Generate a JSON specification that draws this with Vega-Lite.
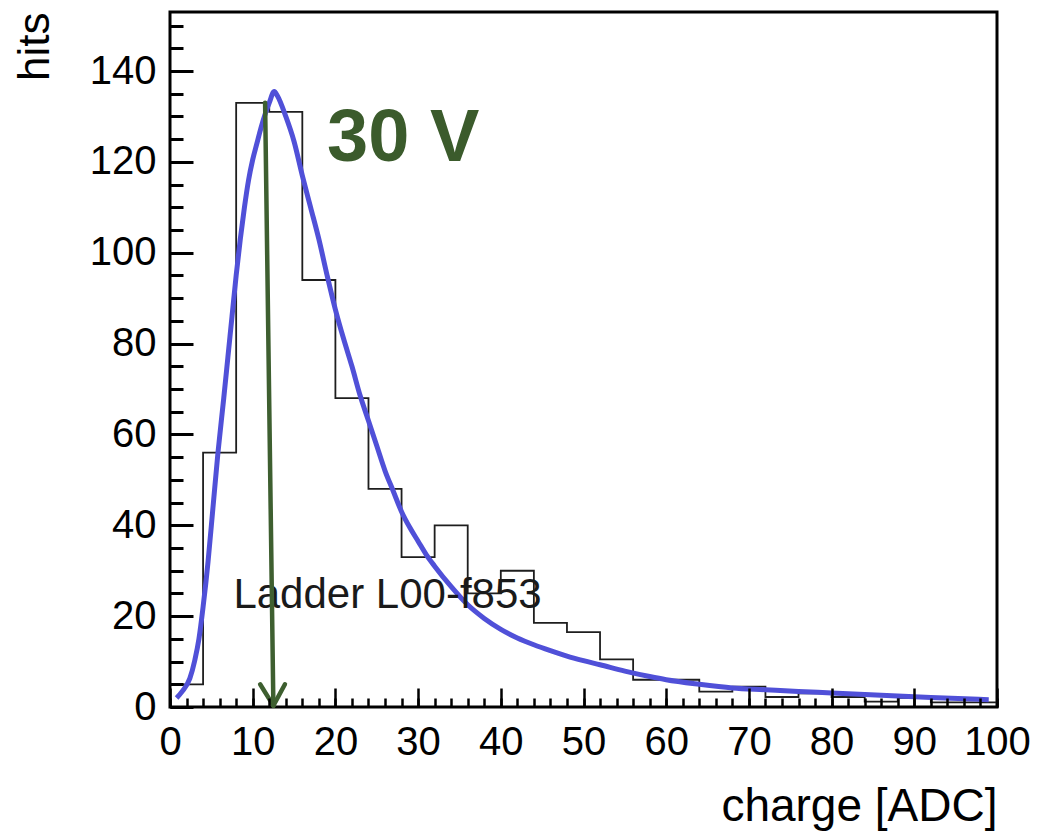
{
  "$schema": "https://vega.github.io/schema/vega-lite/v6.json",
  "autosize": {"type": "none"},
  "padding": {"left": 170, "top": 12, "right": 42, "bottom": 125},
  "width": 827,
  "height": 695,
  "background": "white",
  "config": {
    "view": {"stroke": "black", "strokeWidth": 3},
    "font": "Liberation Sans"
  },
  "datasets": {
    "hist": [
      {"edge": 0, "hits": 5}, {"edge": 4, "hits": 56}, {"edge": 8, "hits": 133}, {"edge": 12, "hits": 131},
      {"edge": 16, "hits": 94}, {"edge": 20, "hits": 68}, {"edge": 24, "hits": 48}, {"edge": 28, "hits": 33},
      {"edge": 32, "hits": 40}, {"edge": 36, "hits": 25}, {"edge": 40, "hits": 30}, {"edge": 44, "hits": 18.5},
      {"edge": 48, "hits": 16.5}, {"edge": 52, "hits": 10.5}, {"edge": 56, "hits": 6}, {"edge": 60, "hits": 6},
      {"edge": 64, "hits": 3.4}, {"edge": 68, "hits": 4.5}, {"edge": 72, "hits": 2.2}, {"edge": 76, "hits": 3},
      {"edge": 80, "hits": 2.2}, {"edge": 84, "hits": 1.2}, {"edge": 88, "hits": 2}, {"edge": 92, "hits": 1},
      {"edge": 96, "hits": 1}, {"edge": 100, "hits": 1}
    ],
    "fit": [
      {"charge": 0.8, "fit": 2}, {"charge": 1.5, "fit": 3.5}, {"charge": 2.4, "fit": 6.3}, {"charge": 3.0, "fit": 10.3},
      {"charge": 3.5, "fit": 15}, {"charge": 4.0, "fit": 22}, {"charge": 4.6, "fit": 32}, {"charge": 5.2, "fit": 44},
      {"charge": 5.8, "fit": 56}, {"charge": 6.5, "fit": 68}, {"charge": 7.0, "fit": 77}, {"charge": 7.5, "fit": 86},
      {"charge": 8.0, "fit": 95}, {"charge": 8.5, "fit": 103}, {"charge": 9.0, "fit": 110}, {"charge": 9.5, "fit": 116},
      {"charge": 10.0, "fit": 120.5}, {"charge": 10.5, "fit": 124}, {"charge": 11.0, "fit": 127.5}, {"charge": 11.5, "fit": 130.5},
      {"charge": 12.0, "fit": 133}, {"charge": 12.6, "fit": 135.5}, {"charge": 13.0, "fit": 134.5}, {"charge": 14.0, "fit": 130},
      {"charge": 15.0, "fit": 124.5}, {"charge": 16.0, "fit": 117}, {"charge": 17.0, "fit": 110}, {"charge": 18.0, "fit": 103},
      {"charge": 19.0, "fit": 95}, {"charge": 20.0, "fit": 87.5}, {"charge": 21.0, "fit": 81}, {"charge": 22.0, "fit": 75},
      {"charge": 23.0, "fit": 68.5}, {"charge": 24.0, "fit": 63}, {"charge": 25.0, "fit": 57.5}, {"charge": 26.0, "fit": 52},
      {"charge": 27.0, "fit": 47.5}, {"charge": 28.0, "fit": 43}, {"charge": 29.0, "fit": 39.5}, {"charge": 30.0, "fit": 36.5},
      {"charge": 31.0, "fit": 33.5}, {"charge": 32.0, "fit": 31}, {"charge": 34.0, "fit": 26.5}, {"charge": 36.0, "fit": 22.5},
      {"charge": 38.0, "fit": 19.5}, {"charge": 40.0, "fit": 17.1}, {"charge": 42.0, "fit": 15.2}, {"charge": 44.0, "fit": 13.7},
      {"charge": 46.0, "fit": 12.4}, {"charge": 48.0, "fit": 11.2}, {"charge": 50.0, "fit": 10.2}, {"charge": 52.0, "fit": 9.3},
      {"charge": 55.0, "fit": 7.9}, {"charge": 58.0, "fit": 6.7}, {"charge": 60.0, "fit": 6}, {"charge": 64.0, "fit": 5},
      {"charge": 68.0, "fit": 4.2}, {"charge": 72.0, "fit": 3.8}, {"charge": 76.0, "fit": 3.4}, {"charge": 80.0, "fit": 3.1},
      {"charge": 86.0, "fit": 2.6}, {"charge": 92.0, "fit": 2.1}, {"charge": 99.0, "fit": 1.6}
    ],
    "arrow": [
      {"part": "shaft", "xa": 11.5, "ya": 133, "xb": 12.5, "yb": 0.3},
      {"part": "headL", "xa": 10.9, "ya": 5, "xb": 12.5, "yb": 0.3},
      {"part": "headR", "xa": 13.9, "ya": 5, "xb": 12.5, "yb": 0.3}
    ],
    "ladder": [{"x": 26.3, "y": 21.7, "label": "Ladder L00-f853"}],
    "volt": [{"x": 28.2, "y": 120.2, "label": "30 V"}]
  },
  "layer": [
    {
      "data": {"name": "hist"},
      "mark": {"type": "line", "interpolate": "step-after", "color": "#1e1e1e", "strokeWidth": 1.8},
      "encoding": {
        "x": {
          "field": "edge", "type": "quantitative",
          "scale": {"domain": [0, 100], "nice": false, "zero": false},
          "axis": {
            "orient": "bottom", "zindex": 1, "ticks": true,
            "values": [0, 10, 20, 30, 40, 50, 60, 70, 80, 90, 100],
            "offset": -19, "tickSize": 19, "tickWidth": 2.5, "tickColor": "black",
            "domain": false,
            "labelFontSize": 40, "labelColor": "black", "labelFont": "Liberation Sans",
            "labelPadding": 15, "labelFlush": false, "labelOverlap": false,
            "grid": false,
            "title": "charge [ADC]", "titleFontSize": 46, "titleFontWeight": "normal", "titleColor": "black",
            "titleFont": "Liberation Sans",
            "titleAlign": "right", "titleAnchor": "end", "titleX": 827, "titleY": 132, "titleBaseline": "alphabetic"
          }
        },
        "y": {
          "field": "hits", "type": "quantitative",
          "scale": {"domain": [0, 153], "nice": false},
          "axis": {
            "orient": "left", "zindex": 1, "ticks": true,
            "values": [0, 20, 40, 60, 80, 100, 120, 140],
            "offset": -23, "tickSize": 23, "tickWidth": 3, "tickColor": "black",
            "domain": false,
            "labelFontSize": 40, "labelColor": "black", "labelFont": "Liberation Sans",
            "labelPadding": 14, "labelFlush": false, "labelOverlap": false,
            "grid": false,
            "title": "hits", "titleFontSize": 44, "titleFontWeight": "normal", "titleColor": "black",
            "titleFont": "Liberation Sans",
            "titleAngle": -90, "titleAlign": "right", "titleBaseline": "middle", "titleX": -158, "titleY": 0
          }
        }
      }
    },
    {
      "data": {"name": "fit"},
      "mark": {"type": "line", "interpolate": "monotone", "color": "#5050d8", "strokeWidth": 5},
      "encoding": {
        "x": {
          "field": "charge", "type": "quantitative",
          "scale": {"domain": [0, 100], "nice": false, "zero": false},
          "axis": {
            "orient": "bottom", "zindex": 1, "ticks": true,
            "values": [0, 2, 4, 6, 8, 10, 12, 14, 16, 18, 20, 22, 24, 26, 28, 30, 32, 34, 36, 38, 40, 42, 44, 46, 48, 50, 52, 54, 56, 58, 60, 62, 64, 66, 68, 70, 72, 74, 76, 78, 80, 82, 84, 86, 88, 90, 92, 94, 96, 98, 100],
            "offset": -9, "tickSize": 9, "tickWidth": 2.5, "tickColor": "black",
            "labels": false, "domain": false, "grid": false, "title": null
          }
        },
        "y": {
          "field": "fit", "type": "quantitative",
          "scale": {"domain": [0, 153], "nice": false},
          "axis": {
            "orient": "left", "zindex": 1, "ticks": true,
            "values": [0, 5, 10, 15, 20, 25, 30, 35, 40, 45, 50, 55, 60, 65, 70, 75, 80, 85, 90, 95, 100, 105, 110, 115, 120, 125, 130, 135, 140, 145, 150],
            "offset": -13, "tickSize": 13, "tickWidth": 3, "tickColor": "black",
            "labels": false, "domain": false, "grid": false, "title": null
          }
        }
      }
    },
    {
      "data": {"name": "ladder"},
      "mark": {"type": "text", "font": "Liberation Sans", "fontSize": 42, "color": "#1a1a1a", "align": "center", "baseline": "alphabetic"},
      "encoding": {
        "x": {"field": "x", "type": "quantitative", "scale": {"domain": [0, 100], "nice": false, "zero": false}, "axis": null},
        "y": {"field": "y", "type": "quantitative", "scale": {"domain": [0, 153], "nice": false}, "axis": null},
        "text": {"field": "label"}
      }
    },
    {
      "data": {"name": "arrow"},
      "mark": {"type": "rule", "color": "#3e5f30", "strokeWidth": 4.5, "strokeCap": "round"},
      "encoding": {
        "x": {"field": "xa", "type": "quantitative", "scale": {"domain": [0, 100], "nice": false, "zero": false}, "axis": null},
        "y": {"field": "ya", "type": "quantitative", "scale": {"domain": [0, 153], "nice": false}, "axis": null},
        "x2": {"field": "xb"},
        "y2": {"field": "yb"}
      }
    },
    {
      "data": {"name": "volt"},
      "mark": {"type": "text", "font": "Liberation Sans", "fontSize": 74, "fontWeight": "bold", "color": "#3b5b2c", "align": "center", "baseline": "alphabetic"},
      "encoding": {
        "x": {"field": "x", "type": "quantitative", "scale": {"domain": [0, 100], "nice": false, "zero": false}, "axis": null},
        "y": {"field": "y", "type": "quantitative", "scale": {"domain": [0, 153], "nice": false}, "axis": null},
        "text": {"field": "label"}
      }
    }
  ],
  "resolve": {"axis": {"x": "independent", "y": "independent"}}
}
